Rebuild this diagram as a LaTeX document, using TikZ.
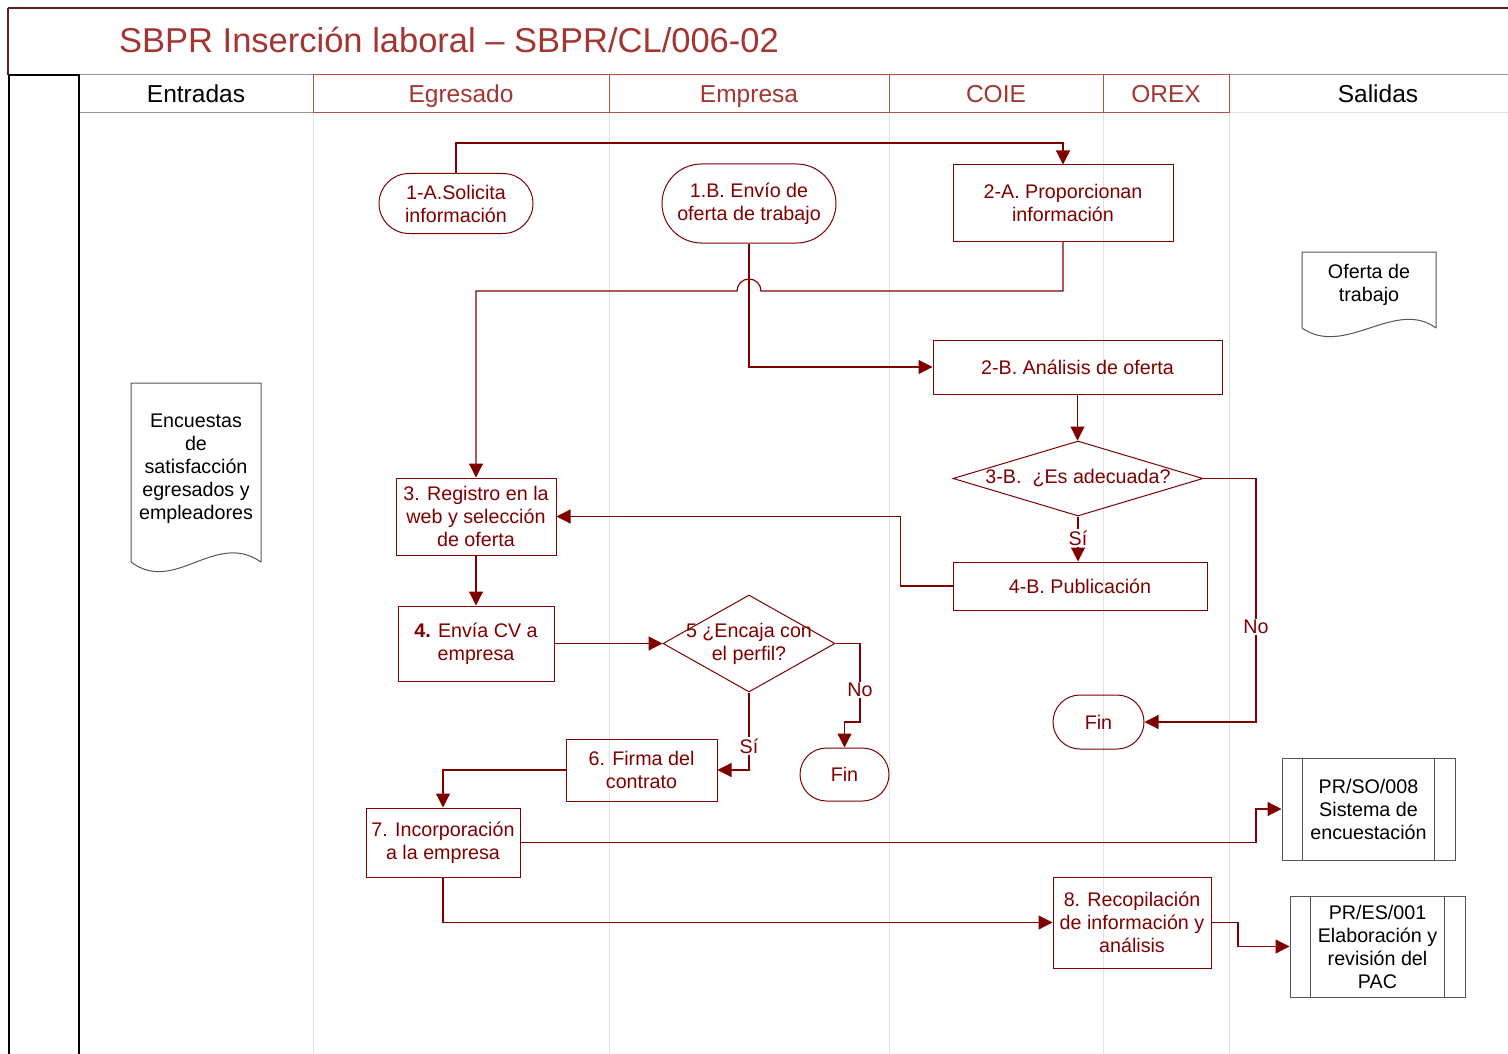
\documentclass[tikz,border=0pt]{standalone}
\usepackage{fontspec}
\setmainfont{Liberation Sans}
\usetikzlibrary{arrows.meta,shapes.geometric,shapes.misc,calc}
\definecolor{dred}{RGB}{128,0,0}
\definecolor{tred}{RGB}{163,54,50}
\definecolor{hred}{RGB}{180,80,75}
\definecolor{lgray}{RGB}{225,225,225}
\definecolor{mgray}{RGB}{150,150,150}
\definecolor{dgray}{RGB}{85,85,85}
\definecolor{brd}{RGB}{100,30,30}
\begin{document}
\begin{tikzpicture}[x=1pt,y=-1pt,
  every node/.style={font=\fontsize{19.7}{23}\selectfont, align=center, inner sep=0pt},
  proc/.style={draw=dred, line width=1pt, text=dred, rectangle},
  term/.style={draw=dred, line width=1pt, text=dred, rounded rectangle},
  dec/.style={draw=dred, line width=1pt, diamond},
  dtext/.style={text=dred},
  pp/.style={draw=dgray, line width=1pt, text=black, rectangle},
  ppline/.style={draw=dgray, line width=1pt},
  docline/.style={draw=dgray, line width=1pt},
  conn/.style={draw=dred, line width=1.2pt, -{Triangle[length=14pt,width=14pt]}},
  lbl/.style={text=dred, fill=white, inner sep=1.5pt},
  hdr/.style={font=\fontsize{24.5}{28}\selectfont, anchor=base},
]
\useasboundingbox (0,0) rectangle (1508,1054);
\fill[white] (0,0) rectangle (1508,1054);

% frame and title
\draw[brd, line width=2pt] (8,8) -- (1508,8);
\draw[brd, line width=1.2pt] (8,8) -- (8,75);
\node[text=tred, font=\fontsize{34.5}{40}\selectfont, anchor=base west] (title) at (119,53) {SBPR Inserción laboral – SBPR/CL/006-02};

% lane lines
\foreach \x in {313,609,889,1103,1229} \draw[lgray, line width=1pt] (\x,113) -- (\x,1054);
\draw[lgray, line width=1pt] (79,113) -- (1508,113);

% header cells
\draw[mgray, line width=1pt] (79,75) rectangle (313,113);
\draw[mgray, line width=1pt] (1229,75) -- (1508,75);
\draw[mgray, line width=1pt] (1229,75) -- (1229,113);
\draw[hred, line width=1pt] (313,75) rectangle (609,113);
\draw[hred, line width=1pt] (609,75) rectangle (889,113);
\draw[hred, line width=1pt] (889,75) rectangle (1103,113);
\draw[hred, line width=1pt] (1103,75) rectangle (1229,113);
\draw[black, line width=1.5pt] (9,75) -- (79,75) -- (79,1054);
\draw[black, line width=1.5pt] (9,75) -- (9,1054);

\node[hdr, text=black] (hent) at (196,102.5) {Entradas};
\node[hdr, text=tred] (hegr) at (461,102.5) {Egresado};
\node[hdr, text=tred] (hemp) at (749,102.5) {Empresa};
\node[hdr, text=tred] (hcoi) at (996,102.5) {COIE};
\node[hdr, text=tred] (hore) at (1166,102.5) {OREX};
\node[hdr, text=black] (hsal) at (1378,102.5) {Salidas};

% process nodes
\node[term, minimum width=154pt, minimum height=60pt] (n1a) at (456,203.5) {1-A.Solicita\\información};
\node[term, minimum width=174pt, minimum height=79pt] (n1b) at (749,203.5) {1.B. Envío de\\oferta de trabajo};
\node[proc, minimum width=220pt, minimum height=76pt] (n2a) at (1063,203) {2-A. Proporcionan\\información};
\node[proc, minimum width=289pt, minimum height=54pt] (n2b) at (1077.5,367) {2-B. Análisis de oferta};
\node[dec, minimum width=250pt, minimum height=75pt, label={[dtext]center:3-B.\ \ ¿Es adecuada?}] (n3b) at (1078,478.5) {};
\node[proc, minimum width=254pt, minimum height=48pt] (n4b) at (1080,586) {4-B. Publicación};
\node[proc, minimum width=160pt, minimum height=77pt] (n3) at (476,516.5) {3. Registro en la\\web y selección\\de oferta};
\node[proc, minimum width=156pt, minimum height=75pt] (n4) at (476,643.5) {\textbf{4.} Envía CV a\\empresa};
\node[dec, minimum width=172pt, minimum height=97pt, label={[dtext]center:5 ¿Encaja con\\el perfil?}] (n5) at (749,643.5) {};
\node[proc, minimum width=151pt, minimum height=62pt] (n6) at (641.5,770) {6. Firma del\\contrato};
\node[term, minimum width=89pt, minimum height=53pt] (fin1) at (844.5,774.5) {Fin};
\node[term, minimum width=91pt, minimum height=54pt] (fin2) at (1098.5,722) {Fin};
\node[proc, minimum width=154pt, minimum height=69pt] (n7) at (443,842.5) {7. Incorporación\\a la empresa};
\node[proc, minimum width=158pt, minimum height=91pt] (n8) at (1132,922.5) {8. Recopilación\\de información y\\análisis};

% predefined processes
\node[pp, minimum width=173pt, minimum height=102pt] (prso) at (1368.5,809) {PR/SO/008\\Sistema de\\encuestación};
\draw[ppline] ([xshift=21pt]prso.north west) -- ([xshift=21pt]prso.south west);
\draw[ppline] ([xshift=-21pt]prso.north east) -- ([xshift=-21pt]prso.south east);
\node[pp, minimum width=175pt, minimum height=101pt] (pres) at (1377.5,946.5) {PR/ES/001\\Elaboración y\\revisión del\\PAC};
\draw[ppline] ([xshift=21pt]pres.north west) -- ([xshift=21pt]pres.south west);
\draw[ppline] ([xshift=-21pt]pres.north east) -- ([xshift=-21pt]pres.south east);

% documents
\draw[docline] (261,562) -- (261,383) -- (131,383) -- (131,562)
  .. controls (175,595) and (215,530) .. (261,562);
\node[text=black] (enc) at (196,468.5) {Encuestas\\de\\satisfacción\\egresados y\\empleadores};
\draw[docline] (1436,328) -- (1436,252) -- (1302,252) -- (1302,328)
  .. controls (1345,358) and (1395,298) .. (1436,328);
\node[text=black] (ofe) at (1369,285) {Oferta de\\trabajo};

% helper coordinates
\coordinate (ytop) at (0,143);
\coordinate (yhop) at (0,291);
\coordinate (xno) at (1256,0);
\coordinate (c5) at (860,722);
\coordinate (x7) at (1256,0);
\coordinate (x8) at (1238,0);

% connectors
\draw[conn] (n1a.north) -- (n1a.north |- ytop) -| (n2a.north);
\draw[conn] (n2a.south) -- (n2a.south |- yhop) -- ($(n1b.south |- yhop)+(12,0)$)
  arc[start angle=0, end angle=180, radius=12pt] -- (n3.north |- yhop) -- (n3.north);
\draw[conn] (n1b.south) |- (n2b.west);
\draw[conn] (n2b.south) -- (n2b.south |- n3b.north);
\draw[conn] (n3b.south) -- (n3b.south |- n4b.north);
\draw[conn] (n3b.east) -| (xno |- fin2.east) -- (fin2.east);
\draw[conn] (n4b.west) -- ++(-52,0) |- (n3.east);
\draw[conn] (n3) -- (n4);
\draw[conn] (n4.east) -- (n5.west);
\draw[conn] (n5.east) -| (c5) -| (fin1.north);
\draw[conn] (n5.south) |- (n6.east);
\draw[conn] (n6.west) -| (n7.north);
\draw[conn] (n7.east) -| (x7 |- prso.west) -- (prso.west);
\draw[conn] (n7.south) |- (n8.west);
\draw[conn] (n8.east) -| (x8 |- pres.west) -- (pres.west);

% labels
\node[lbl] (l1) at (1078,538) {Sí};
\node[lbl] (l2) at (1256,627) {No};
\node[lbl] (l3) at (860,690) {No};
\node[lbl] (l4) at (749,746) {Sí};
\end{tikzpicture}
\end{document}
